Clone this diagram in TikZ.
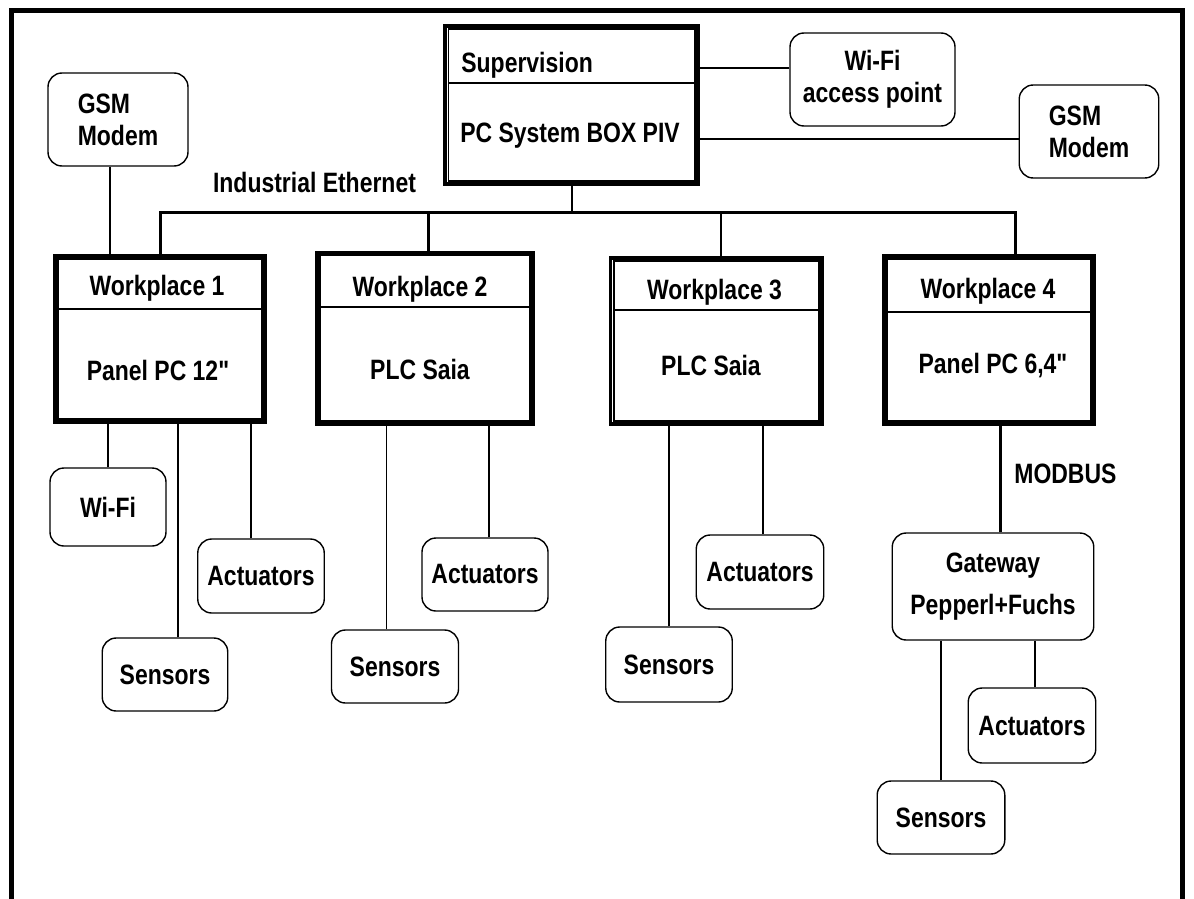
\documentclass[tikz,border=0pt]{standalone}
\usepackage{fontspec}
\newfontfamily\wpfont{Liberation Sans}[FakeStretch=0.82]
\usetikzlibrary{calc}

\begin{document}
\begin{tikzpicture}[
        x=0.5pt, y=-0.5pt,
        font=\wpfont\fontsize{14pt}{16pt}\selectfont\bfseries,
        wpbox/.style={
            draw=black,
            line width=1.8pt,
            inner sep=0pt
        },
        innerframe/.style={
            draw=black,
            line width=0.8pt
        },
        divider/.style={line width=1.3pt},
        subbox/.style={
            draw=black,
            rounded corners=7pt,
            line width=0.7pt,
            align=center,
            inner sep=0pt
        },
        lan/.style={line width=1.5pt},
        wire/.style={line width=0.6pt},
        lbl/.style={inner sep=0pt, anchor=base}
    ]

        \useasboundingbox (0,0) rectangle (1194,899);
        \draw[line width=2.5pt] (11,899) -- (11,11) -- (1182.5,11) -- (1182.5,899);

        % supervision
        \node[wpbox, line width=2.2pt, minimum width=126.5pt, minimum height=79pt] (sup) at (571.5,105) {};
        \draw[innerframe] ([shift={(2.75pt,2.75pt)}]sup.south west) rectangle ([shift={(-2.75pt,-2.75pt)}]sup.north east);
        \coordinate (supd) at (0,83);
        \draw[divider, line width=1.1pt] ([xshift=2.75pt]sup.west |- supd) -- ([xshift=-2.75pt]sup.east |- supd);
        \node[lbl, anchor=base west] (supt) at (461,73) {Supervision};
        \node[lbl] (supb) at (570,142) {PC System BOX PIV};

        \node[subbox, minimum width=82.5pt, minimum height=46.5pt] (wifiAP) at (872.5,79.5) {Wi-Fi\\access point};
        \node[subbox, align=left, minimum width=69.75pt, minimum height=46.5pt] (gsmR) at (1089,131.5) {GSM\\Modem};
        \node[subbox, align=left, minimum width=70pt, minimum height=46.5pt] (gsmL) at (118,119.5) {GSM\\Modem};

        % workplaces
        \node[wpbox, minimum width=105pt, minimum height=83pt] (wp1) at (160,339) {};
        \node[wpbox, line width=2.4pt, minimum width=107.5pt, minimum height=85.25pt] (wp2) at (425,338.25) {};
        \node[wpbox, minimum width=105.75pt, minimum height=83pt] (wp3) at (716.25,341) {};
        \node[wpbox, minimum width=105pt, minimum height=84pt] (wp4) at (989,340) {};

        \draw[innerframe] ([shift={(2.5pt,2.5pt)}]wp1.south west) rectangle ([shift={(-2.5pt,-2.5pt)}]wp1.north east);
        \draw[innerframe] ([shift={(2.5pt,2.5pt)}]wp2.south west) rectangle ([shift={(-2.5pt,-2.5pt)}]wp2.north east);
        \draw[innerframe] ([shift={(2.5pt,2.5pt)}]wp3.south west) rectangle ([shift={(-2.5pt,-2.5pt)}]wp3.north east);
        \draw[innerframe] ([shift={(2.5pt,2.5pt)}]wp4.south west) rectangle ([shift={(-2.5pt,-2.5pt)}]wp4.north east);

        \coordinate (wp1d) at (0,309);
        \coordinate (wp2d) at (0,307);
        \coordinate (wp3d) at (0,310);
        \coordinate (wp4d) at (0,312);
        \draw[divider] ([xshift=2.5pt]wp1.west |- wp1d) -- ([xshift=-2.5pt]wp1.east |- wp1d);
        \draw[divider] ([xshift=2.5pt]wp2.west |- wp2d) -- ([xshift=-2.5pt]wp2.east |- wp2d);
        \draw[divider] ([xshift=2.5pt]wp3.west |- wp3d) -- ([xshift=-2.5pt]wp3.east |- wp3d);
        \draw[divider, line width=1.1pt] ([xshift=2.5pt]wp4.west |- wp4d) -- ([xshift=-2.5pt]wp4.east |- wp4d);

        \node[lbl] (wp1t) at (157,295) {Workplace 1};
        \node[lbl] (wp2t) at (420,296) {Workplace 2};
        \node[lbl] (wp3t) at (714.5,299) {Workplace 3};
        \node[lbl] (wp4t) at (988,298) {Workplace 4};
        \node[lbl] (wp1b) at (158,380) {Panel PC 12"};
        \node[lbl] (wp2b) at (420,379) {PLC Saia};
        \node[lbl] (wp3b) at (711,375) {PLC Saia};
        \node[lbl] (wp4b) at (993,373) {Panel PC 6,4"};

        % field devices
        \node[subbox, minimum width=58pt, minimum height=39pt] (wifi1) at (108,507) {Wi-Fi};
        \node[subbox, minimum width=62.75pt, minimum height=36.5pt] (sen1) at (165,674.5) {Sensors};
        \node[subbox, minimum width=63.25pt, minimum height=37pt] (act1) at (261,576) {Actuators};
        \node[subbox, minimum width=63.5pt, minimum height=36.5pt] (sen2) at (395,666.5) {Sensors};
        \node[subbox, minimum width=63pt, minimum height=36.5pt] (act2) at (485,574.5) {Actuators};
        \node[subbox, minimum width=63.25pt, minimum height=37.5pt] (sen3) at (669,664.5) {Sensors};
        \node[subbox, minimum width=63.75pt, minimum height=37pt] (act3) at (760,572) {Actuators};
        \node[subbox, minimum width=100.75pt, minimum height=53.5pt] (gw) at (993,586.5) {Gateway\\[5pt]Pepperl+Fuchs};
        \node[subbox, minimum width=63.75pt, minimum height=37.5pt] (act4) at (1032,725.5) {Actuators};
        \node[subbox, minimum width=63.8pt, minimum height=36.5pt] (sen4) at (941,817.5) {Sensors};

        % links
        \draw[wire] ([xshift=-4pt]gsmL.south) -- ([xshift=-4pt]gsmL.south |- wp1.north);
        \draw[wire, line width=1pt] ([yshift=5.75pt]wifiAP.west) -- ([yshift=5.75pt]wifiAP.west -| sup.east);
        \draw[wire] ([yshift=-3.75pt]gsmR.west) -- ([yshift=-3.75pt]gsmR.west -| sup.east);

        \coordinate (bus) at (0,212);
        \draw[lan] (wp1.north) |- ([xshift=13pt]wp4.north |- bus) -- ([xshift=13pt]wp4.north);
        \draw[lan] ([xshift=1.5pt]wp2.north) -- ([xshift=1.5pt]wp2.north |- bus);
        \draw[lan, line width=1pt] ([xshift=2.5pt]wp3.north) -- ([xshift=2.5pt]wp3.north |- bus);
        \draw[lan, line width=1pt] (sup.south) -- (sup.south |- bus);
        \node[lbl] (eth) at (314.5,192) {Industrial Ethernet};

        \draw[wire] (wifi1.north) -- (wifi1.north |- wp1.south);
        \draw[wire] ([xshift=6.5pt]sen1.north) -- ([xshift=6.5pt]sen1.north |- wp1.south);
        \draw[wire] ([xshift=-5pt]act1.north) -- ([xshift=-5pt]act1.north |- wp1.south);
        \draw[wire] ([xshift=-4.25pt]sen2.north) -- ([xshift=-4.25pt]sen2.north |- wp2.south);
        \draw[wire, line width=1.1pt] ([xshift=2pt]act2.north) -- ([xshift=2pt]act2.north |- wp2.south);
        \draw[wire] (sen3.north) -- (sen3.north |- wp3.south);
        \draw[wire] ([xshift=1.5pt]act3.north) -- ([xshift=1.5pt]act3.north |- wp3.south);
        \draw[lan] ([xshift=3.5pt]gw.north) -- ([xshift=3.5pt]gw.north |- wp4.south);
        \node[lbl, anchor=base west] (modbus) at (1014,483) {MODBUS};
        \draw[wire] ([xshift=1.5pt]act4.north) -- ([xshift=1.5pt]act4.north |- gw.south);
        \draw[wire] (sen4.north) -- (sen4.north |- gw.south);

    \end{tikzpicture}
\end{document}
